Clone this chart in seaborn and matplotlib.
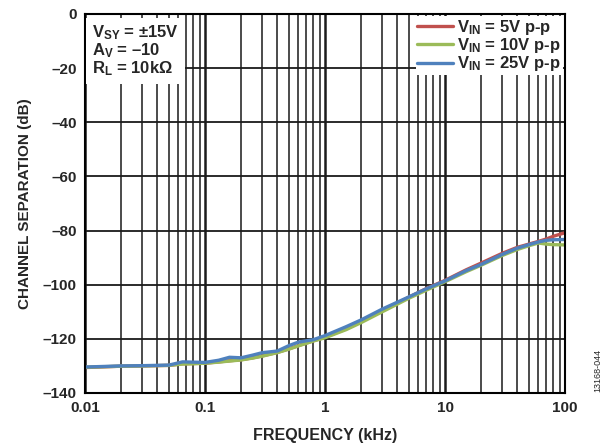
import numpy as np
import pandas as pd
import matplotlib
matplotlib.use("Agg")
import matplotlib.pyplot as plt
import seaborn as sns

freq_khz = [0.01, 0.02, 0.03, 0.05, 0.065, 0.08, 0.1, 0.13, 0.16, 0.2, 0.25, 0.3, 0.4, 0.5, 0.6, 0.8,
            1, 1.5, 2, 3, 5, 7, 10, 15, 20, 30, 40, 50, 60, 70, 80, 100]
sep_5v = [-130.6, -130.1, -130.0, -129.8, -129.2, -129.1, -129.0, -128.5, -128.1, -127.7, -127.0, -126.3,
          -125.0, -123.7, -122.5, -120.7, -119.4, -116.3, -113.6, -109.6, -104.6, -101.4, -98.4, -94.5,
          -92.0, -88.4, -86.2, -85.0, -84.0, -83.1, -82.1, -80.8]
sep_10v = [-130.5, -130.1, -130.0, -129.8, -129.3, -129.2, -129.0, -128.6, -128.2, -127.8, -127.1, -126.4,
           -125.1, -123.8, -122.6, -120.8, -119.6, -116.6, -114.0, -110.0, -105.0, -102.0, -98.9, -95.2,
           -92.8, -89.2, -87.0, -85.6, -84.6, -85.0, -85.2, -85.3]
sep_25v = [-130.4, -130.0, -129.9, -129.7, -128.5, -128.6, -128.7, -127.9, -126.8, -127.0, -126.0, -125.1,
           -124.5, -122.5, -121.2, -120.3, -118.8, -115.5, -113.0, -109.0, -104.5, -101.5, -98.6, -94.8,
           -92.5, -88.8, -86.5, -85.2, -84.2, -83.6, -83.4, -83.3]
series_labels = [r"$\mathrm{V_{IN}}$ = 5V p-p", r"$\mathrm{V_{IN}}$ = 10V p-p", r"$\mathrm{V_{IN}}$ = 25V p-p"]
colors = ["#C0504D", "#9BBB59", "#4F81BD"]
y_ticks = [0, -20, -40, -60, -80, -100, -120, -140]
x_ticks = [0.01, 0.1, 1, 10, 100]
x_ticklabels = ["0.01", "0.1", "1", "10", "100"]

df = pd.concat([
    pd.DataFrame({"freq": freq_khz, "sep": s, "series": lab})
    for s, lab in zip([sep_5v, sep_10v, sep_25v], series_labels)
])

sns.set_style("white")
plt.rcParams["font.family"] = ["Liberation Sans", "DejaVu Sans"]
plt.rcParams["font.weight"] = "bold"
plt.rcParams["mathtext.fontset"] = "custom"
plt.rcParams["mathtext.rm"] = "Liberation Sans:bold"
plt.rcParams["mathtext.it"] = "Liberation Sans:bold"
plt.rcParams["mathtext.bf"] = "Liberation Sans:bold"

fig = plt.figure(figsize=(6.14, 4.44), dpi=100)
ax = fig.add_axes([85/614, 51/444, 480/614, 379/444])

sns.lineplot(data=df, x="freq", y="sep", hue="series", palette=colors, hue_order=series_labels,
             linewidth=2.4, ax=ax, legend=True, estimator=None, sort=True)

ax.set_xscale("log")
ax.set_xlim(0.01, 100)
ax.set_ylim(-140, 0)
ax.set_yticks(y_ticks)
ax.set_yticklabels(["0"] + ["\u2013%d" % abs(v) for v in y_ticks[1:]])
ax.set_xticks(x_ticks)
ax.set_xticklabels(x_ticklabels)
ax.xaxis.set_minor_locator(matplotlib.ticker.LogLocator(base=10, subs=np.arange(2, 10), numticks=20))
ax.xaxis.set_minor_formatter(matplotlib.ticker.NullFormatter())
ax.grid(True, which="major", axis="x", color="#1a1a1a", linewidth=1.8)
ax.grid(True, which="minor", axis="x", color="#1a1a1a", linewidth=1.1)
ax.grid(True, which="major", axis="y", color="#1a1a1a", linewidth=1.3)
ax.set_axisbelow(True)
ax.tick_params(axis="both", which="both", length=0, labelsize=11, pad=6)
for lbl in ax.get_xticklabels() + ax.get_yticklabels():
    lbl.set_fontweight("bold")
for sp in ax.spines.values():
    sp.set_color("black")
    sp.set_linewidth(1.5)

ax.set_xlabel("FREQUENCY (kHz)", fontsize=11.5, fontweight="bold", labelpad=9)
ax.set_ylabel("CHANNEL SEPARATION (dB)", fontsize=11, fontweight="bold", labelpad=8)

leg = ax.legend(loc="upper right", frameon=True, fontsize=12, handlelength=2.15, handletextpad=0.25,
                labelspacing=-0.05, borderpad=0.1, borderaxespad=0.15)
leg.get_frame().set_edgecolor("none")
leg.get_frame().set_facecolor("white")
leg.get_frame().set_alpha(1)
leg.get_frame().set_boxstyle("square", pad=0)
for line in leg.get_lines():
    line.set_linewidth(2.4)

ax.text(0.015, 0.975,
        "$\\mathrm{V_{SY}}$ = \u00b115V\n$\\mathrm{A_V}$ = \u201310\n$\\mathrm{R_L}$ = 10k\u03a9",
        transform=ax.transAxes, ha="left", va="top", fontsize=12, fontweight="bold", linespacing=0.95,
        bbox=dict(facecolor="white", edgecolor="none", boxstyle="square,pad=0.35"), zorder=5)

fig.text(598/614, 1 - 370/444, "13168-044", rotation=90, fontsize=6.5, fontweight="normal",
         ha="center", va="center")

fig.savefig("out.png", dpi=100)
